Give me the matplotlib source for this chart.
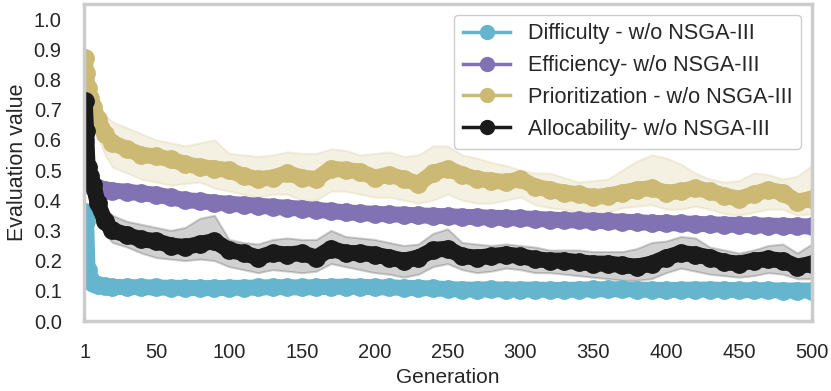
import matplotlib
matplotlib.use("Agg")
import matplotlib.pyplot as plt
from matplotlib.lines import Line2D

# sampled generations (denser at the start where the curves drop fast)
GENERATIONS = [1, 2, 3, 5, 7, 10, 15] + list(range(20, 501, 10))

DIFFICULTY = [0.36, 0.33, 0.17, 0.14, 0.125, 0.118, 0.115,
              0.113, 0.112, 0.112, 0.111, 0.110, 0.110, 0.109, 0.109, 0.110, 0.110,
              0.111, 0.112, 0.112, 0.111, 0.112, 0.113, 0.114, 0.113, 0.112, 0.111,
              0.110, 0.109, 0.108, 0.106, 0.104, 0.104, 0.105, 0.104, 0.104, 0.104,
              0.103, 0.103, 0.104, 0.105, 0.105, 0.105, 0.104, 0.103, 0.103, 0.103,
              0.104, 0.104, 0.103, 0.102, 0.102, 0.102, 0.101, 0.101, 0.101]

EFFICIENCY = [0.60, 0.52, 0.47, 0.45, 0.445, 0.44, 0.435,
              0.432, 0.428, 0.423, 0.418, 0.410, 0.400, 0.397, 0.392, 0.388, 0.385,
              0.382, 0.378, 0.375, 0.372, 0.368, 0.364, 0.360, 0.357, 0.355, 0.353,
              0.352, 0.350, 0.348, 0.347, 0.345, 0.344, 0.342, 0.341, 0.340, 0.338,
              0.336, 0.334, 0.333, 0.332, 0.330, 0.329, 0.327, 0.325, 0.324, 0.323,
              0.322, 0.320, 0.319, 0.318, 0.317, 0.316, 0.315, 0.314, 0.313]

PRIORITIZATION = [0.87, 0.82, 0.77, 0.74, 0.71, 0.67, 0.62,
                  0.59, 0.57, 0.55, 0.545, 0.535, 0.52, 0.51, 0.505, 0.50, 0.48,
                  0.47, 0.475, 0.49, 0.475, 0.47, 0.505, 0.50, 0.495, 0.475, 0.485,
                  0.47, 0.455, 0.49, 0.505, 0.485, 0.47, 0.465, 0.46, 0.47, 0.445,
                  0.435, 0.425, 0.42, 0.41, 0.415, 0.425, 0.435, 0.44, 0.425, 0.43,
                  0.44, 0.43, 0.415, 0.405, 0.42, 0.435, 0.425, 0.395, 0.405]
PRIORITIZATION_HI = [0.88, 0.84, 0.80, 0.77, 0.75, 0.72, 0.68,
                     0.66, 0.64, 0.62, 0.60, 0.59, 0.58, 0.59, 0.60, 0.555, 0.55,
                     0.545, 0.55, 0.56, 0.555, 0.555, 0.57, 0.565, 0.55, 0.555, 0.56,
                     0.545, 0.55, 0.58, 0.58, 0.55, 0.54, 0.525, 0.515, 0.50, 0.49,
                     0.49, 0.475, 0.46, 0.465, 0.47, 0.50, 0.53, 0.55, 0.54, 0.52,
                     0.49, 0.47, 0.46, 0.465, 0.49, 0.485, 0.47, 0.48, 0.515]
PRIORITIZATION_LO = [0.86, 0.80, 0.74, 0.70, 0.66, 0.61, 0.55,
                     0.51, 0.49, 0.47, 0.46, 0.45, 0.455, 0.46, 0.44, 0.43, 0.42,
                     0.41, 0.42, 0.42, 0.40, 0.40, 0.43, 0.43, 0.42, 0.41, 0.41,
                     0.40, 0.39, 0.40, 0.42, 0.40, 0.39, 0.39, 0.40, 0.41, 0.385,
                     0.375, 0.37, 0.36, 0.355, 0.36, 0.375, 0.38, 0.385, 0.37, 0.37,
                     0.38, 0.37, 0.355, 0.35, 0.36, 0.37, 0.37, 0.35, 0.355]

ALLOCABILITY = [0.73, 0.63, 0.51, 0.48, 0.45, 0.39, 0.33,
                0.30, 0.285, 0.27, 0.265, 0.25, 0.245, 0.255, 0.265, 0.235, 0.225,
                0.21, 0.225, 0.22, 0.225, 0.21, 0.24, 0.225, 0.225, 0.22, 0.21,
                0.20, 0.21, 0.235, 0.24, 0.215, 0.21, 0.215, 0.22, 0.215, 0.205,
                0.20, 0.20, 0.195, 0.19, 0.19, 0.185, 0.18, 0.19, 0.21, 0.225,
                0.22, 0.21, 0.195, 0.19, 0.20, 0.205, 0.20, 0.18, 0.19]
ALLOCABILITY_HI = [0.74, 0.65, 0.54, 0.51, 0.48, 0.43, 0.37,
                   0.35, 0.33, 0.32, 0.31, 0.30, 0.31, 0.34, 0.35, 0.27, 0.26,
                   0.255, 0.27, 0.275, 0.27, 0.27, 0.30, 0.28, 0.275, 0.27, 0.26,
                   0.25, 0.255, 0.29, 0.305, 0.26, 0.255, 0.25, 0.255, 0.25, 0.245,
                   0.235, 0.235, 0.235, 0.23, 0.23, 0.23, 0.24, 0.26, 0.265, 0.28,
                   0.275, 0.245, 0.235, 0.225, 0.235, 0.25, 0.255, 0.225, 0.255]
ALLOCABILITY_LO = [0.72, 0.61, 0.48, 0.45, 0.42, 0.35, 0.29,
                   0.26, 0.245, 0.225, 0.21, 0.205, 0.20, 0.205, 0.20, 0.18, 0.17,
                   0.16, 0.17, 0.165, 0.16, 0.165, 0.19, 0.18, 0.17, 0.16, 0.155,
                   0.145, 0.155, 0.18, 0.19, 0.17, 0.16, 0.165, 0.175, 0.17, 0.16,
                   0.16, 0.155, 0.15, 0.145, 0.14, 0.135, 0.135, 0.14, 0.16, 0.175,
                   0.165, 0.155, 0.15, 0.145, 0.15, 0.16, 0.155, 0.14, 0.14]

LABELS = ["Difficulty - w/o NSGA-III", "Efficiency- w/o NSGA-III",
          "Prioritization - w/o NSGA-III", "Allocability- w/o NSGA-III"]
COLOURS = ["#64B5CD", "#8172B3", "#CCB974", "#1a1a1a"]
XTICKS = [1, 50, 100, 150, 200, 250, 300, 350, 400, 450, 500]
YTICKS = [0.0, 0.1, 0.2, 0.3, 0.4, 0.5, 0.6, 0.7, 0.8, 0.9, 1.0]

plt.rcParams["font.family"] = ["Liberation Sans", "DejaVu Sans"]
TEXT = "#262626"

fig = plt.figure(figsize=(8.31, 3.91), dpi=100)
ax = fig.add_axes([0.101, 0.179, 0.876, 0.811])

series = [
    (DIFFICULTY, None, None),
    (EFFICIENCY, None, None),
    (PRIORITIZATION, PRIORITIZATION_LO, PRIORITIZATION_HI),
    (ALLOCABILITY, ALLOCABILITY_LO, ALLOCABILITY_HI),
]
for (mean, lo, hi), colour in zip(series, COLOURS):
    if lo is not None:
        ax.fill_between(GENERATIONS, lo, hi, color=colour, alpha=0.2, linewidth=1.5)
    ax.plot(GENERATIONS, mean, color=colour, linewidth=11.5, marker="o",
            markersize=12.5, solid_capstyle="round", solid_joinstyle="round")

ax.set_xlim(0.5, 500)
ax.set_ylim(0, 1.05)
ax.set_xticks(XTICKS)
ax.set_yticks(YTICKS)
ax.set_yticklabels([f"{v:.1f}" for v in YTICKS])
ax.tick_params(length=0, labelsize=14.5, colors=TEXT, pad=16)
for s in ax.spines.values():
    s.set_color("#cccccc")
    s.set_linewidth(2.5)
ax.set_xlabel("Generation", fontsize=15, color=TEXT, labelpad=4)
ax.set_ylabel("Evaluation value", fontsize=15.5, color=TEXT, labelpad=4)

handles = [Line2D([0], [0], color=c, linewidth=2.5, marker="o", markersize=10)
           for c in COLOURS]
leg = ax.legend(handles, LABELS, loc="upper right", fontsize=15.6,
                handlelength=2.2, handletextpad=0.8, labelspacing=0.5,
                borderpad=0.4, framealpha=1, edgecolor="#cccccc", fancybox=True)
for t in leg.get_texts():
    t.set_color(TEXT)

fig.savefig("out.png", dpi=100)
